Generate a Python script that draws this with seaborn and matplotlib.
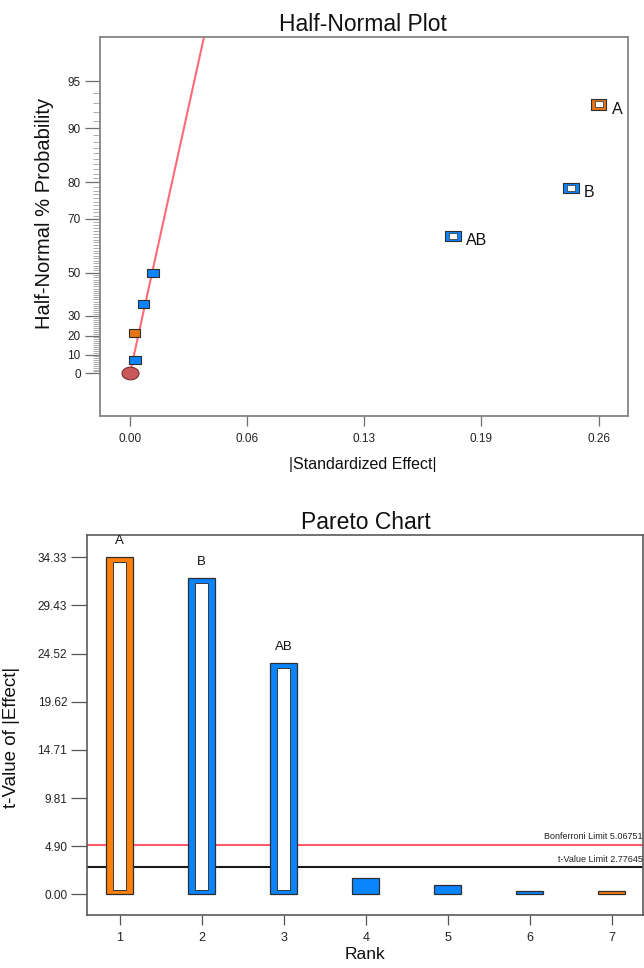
import numpy as np
import pandas as pd
import matplotlib
matplotlib.use("Agg")
import matplotlib.pyplot as plt
from matplotlib.markers import MarkerStyle
from matplotlib.path import Path
from matplotlib.transforms import blended_transform_factory
from statistics import NormalDist
import seaborn as sns

# ---------------- Half-normal plot data ----------------
hn_terms = ["A", "B", "AB", "", "", "", ""]
hn_effect = [0.2600, 0.2446, 0.1791, 0.0128, 0.0075, 0.0028, 0.0026]
hn_prob = [92.9, 78.6, 64.3, 50.0, 35.7, 7.1, 21.4]
hn_sign = ["+", "-", "-", "-", "-", "-", "+"]
hn_selected = [True, True, True, False, False, False, False]
hn_origin_effect = [0.0]
hn_origin_prob = [0.0]
hn_fit_slope = 0.0182  # |effect| per half-normal quantile along the error line

hn_xticks = [0.0, 0.065, 0.13, 0.195, 0.26]
hn_xtick_labels = ["0.00", "0.06", "0.13", "0.19", "0.26"]
hn_yticks = [0, 10, 20, 30, 50, 70, 80, 90, 95]

# ---------------- Pareto chart data ----------------
pareto_rank = ["1", "2", "3", "4", "5", "6", "7"]
pareto_t = [34.33, 32.25, 23.60, 1.63, 0.98, 0.32, 0.30]
pareto_terms = ["A", "B", "AB", "", "", "", ""]
pareto_sign = ["+", "-", "-", "-", "-", "-", "+"]
pareto_yticks = [0.00, 4.90, 9.81, 14.71, 19.62, 24.52, 29.43, 34.33]
bonferroni_limit = 5.06751
t_value_limit = 2.77645

ORANGE = "#FF8008"
ORANGE_DARK = "#E87416"
BLUE = "#0A84FF"
EDGE = "#2E2E2E"
palette = {"+": ORANGE, "-": BLUE}
palette_hn = {"+": ORANGE_DARK, "-": BLUE}

sns.set_theme(style="white")
plt.rcParams["font.family"] = ["Liberation Sans", "DejaVu Sans"]
plt.rcParams["axes.unicode_minus"] = False


def half_normal_q(p):
    return NormalDist().inv_cdf(0.5 + p / 200.0)


# marker shapes
rect_marker = MarkerStyle(Path([(-1.45, -1), (1.45, -1), (1.45, 1), (-1.45, 1), (-1.45, -1)],
                               [Path.MOVETO, Path.LINETO, Path.LINETO, Path.LINETO, Path.CLOSEPOLY]))
theta = np.linspace(0, 2 * np.pi, 40)
ellipse_marker = MarkerStyle(Path(np.column_stack([1.35 * np.cos(theta), np.sin(theta)])))

fig = plt.figure(figsize=(6.44, 9.68), dpi=100)
ax1 = fig.add_axes([0.1559, 0.5702, 0.8197, 0.3911])
ax2 = fig.add_axes([0.1356, 0.0547, 0.8633, 0.3926])

# ================= Half-normal plot =================
df_hn = pd.DataFrame({
    "effect": hn_effect,
    "q": [half_normal_q(p) for p in hn_prob],
    "sign": hn_sign,
    "term": hn_terms,
    "selected": hn_selected,
})
sel = df_hn[df_hn["selected"]]
rest = df_hn[~df_hn["selected"]]

q_top = 2.254
q_bottom = -0.287

# error line through the origin
line_df = pd.DataFrame({"effect": [0.0, hn_fit_slope * q_top], "q": [0.0, q_top]})
sns.lineplot(data=line_df, x="effect", y="q", color="#FF6B78", linewidth=1.5,
             ax=ax1, zorder=2, sort=False)

origin_df = pd.DataFrame({"effect": hn_origin_effect,
                          "q": [half_normal_q(p) for p in hn_origin_prob]})
sns.scatterplot(data=origin_df, x="effect", y="q", color="#C9585A", marker=ellipse_marker,
                s=150, edgecolor="#7A2E30", linewidth=0.8, ax=ax1, zorder=3, legend=False)

sns.scatterplot(data=rest, x="effect", y="q", hue="sign", palette=palette_hn,
                marker=rect_marker, s=70, edgecolor=EDGE, linewidth=0.8,
                ax=ax1, zorder=4, legend=False)
sns.scatterplot(data=sel, x="effect", y="q", hue="sign", palette=palette_hn,
                marker=rect_marker, s=125, edgecolor=EDGE, linewidth=0.8,
                ax=ax1, zorder=4, legend=False)
sns.scatterplot(data=sel, x="effect", y="q", color="white",
                marker=rect_marker, s=30, edgecolor="#444444", linewidth=0.6,
                ax=ax1, zorder=5, legend=False)

for _, row in sel.iterrows():
    ax1.annotate(row["term"], xy=(row["effect"], row["q"]), xytext=(9.6, -3.4),
                 textcoords="offset points", ha="left", va="center",
                 fontsize=11.5, color="#111111")

ax1.set_xlim(-0.0164, 0.2765)
ax1.set_ylim(q_bottom, q_top)
ax1.set_xticks(hn_xticks)
ax1.set_xticklabels(hn_xtick_labels)
ax1.set_yticks([half_normal_q(p) for p in hn_yticks])
ax1.set_yticklabels([str(p) for p in hn_yticks])
ax1.set_yticks([half_normal_q(p) for p in range(1, 95) if p not in hn_yticks], minor=True)

ax1.tick_params(axis="y", which="major", direction="out", left=True, length=11, width=0.9,
                color="#6E6E6E", labelsize=8.5, pad=3.2, labelcolor="#222222")
ax1.tick_params(axis="y", which="minor", direction="out", left=True, length=5, width=0.6,
                color="#A0A0A0")
ax1.tick_params(axis="x", which="major", direction="out", bottom=True, length=7.5, width=0.9,
                color="#6E6E6E", labelsize=8.5, pad=5, labelcolor="#222222")

for sp in ax1.spines.values():
    sp.set_color("#858585")
    sp.set_linewidth(1.3)

ax1.set_title("Half-Normal Plot", fontsize=16.5, x=0.497, pad=4.5, color="#111111")
ax1.set_xlabel("|Standardized Effect|", fontsize=11.5, color="#111111")
ax1.set_ylabel("Half-Normal % Probability", fontsize=14.5, color="#111111")
ax1.xaxis.set_label_coords(0.4974, -0.108)
ax1.yaxis.set_label_coords(-0.088, 0.534)

# ================= Pareto chart =================
df_p = pd.DataFrame({"rank": pareto_rank, "t": pareto_t, "sign": pareto_sign,
                     "term": pareto_terms})
sns.barplot(data=df_p, x="rank", y="t", hue="sign", palette=palette, dodge=False,
            width=0.33, edgecolor=EDGE, linewidth=0.9, errorbar=None, saturation=1,
            legend=False, ax=ax2, zorder=3)

# hollow centres for the significant terms
inset = 0.5
sig = df_p[df_p["t"] > bonferroni_limit]
ax2.bar(sig.index, sig["t"] - 2 * inset, bottom=inset, width=0.16, color="white",
        edgecolor="#3A3A3A", linewidth=0.7, zorder=4)

for i, row in df_p.iterrows():
    if row["term"]:
        ax2.annotate(row["term"], xy=(i, row["t"]), xytext=(0, 11.5),
                     textcoords="offset points", ha="center", va="center",
                     fontsize=9.5, color="#111111")

ax2.axhline(bonferroni_limit, color="#FF5A68", linewidth=1.5, zorder=2)
ax2.axhline(t_value_limit, color="#1A1A1A", linewidth=1.5, zorder=2)
trans = blended_transform_factory(ax2.transAxes, ax2.transData)
ax2.annotate(f"Bonferroni Limit {bonferroni_limit:.5f}", xy=(0.999, bonferroni_limit),
             xycoords=trans, xytext=(0, 2.5), textcoords="offset points",
             ha="right", va="bottom", fontsize=6.5, color="#222222")
ax2.annotate(f"t-Value Limit {t_value_limit:.5f}", xy=(0.999, t_value_limit),
             xycoords=trans, xytext=(0, 2.5), textcoords="offset points",
             ha="right", va="bottom", fontsize=6.5, color="#222222")

ax2.set_xlim(-0.395, 6.385)
ax2.set_ylim(-2.1, 36.6)
ax2.set_yticks(pareto_yticks)
ax2.set_yticklabels([f"{v:.2f}" for v in pareto_yticks])

ax2.tick_params(axis="y", direction="out", left=True, length=11.5, width=0.9,
                color="#555555", labelsize=8.5, pad=3, labelcolor="#222222")
ax2.tick_params(axis="x", direction="out", bottom=True, length=7.5, width=0.9,
                color="#555555", labelsize=9, pad=5, labelcolor="#222222")

for sp in ax2.spines.values():
    sp.set_color("#5A5A5A")
    sp.set_linewidth(1.2)

ax2.set_title("Pareto Chart", fontsize=16.5, x=0.501, pad=4, color="#111111")
ax2.set_xlabel("Rank", fontsize=12.5, color="#111111")
ax2.set_ylabel("t-Value of |Effect|", fontsize=13.5, color="#111111")
ax2.xaxis.set_label_coords(0.4995, -0.084)
ax2.yaxis.set_label_coords(-0.121, 0.468)

fig.savefig("out.png", dpi=100)
